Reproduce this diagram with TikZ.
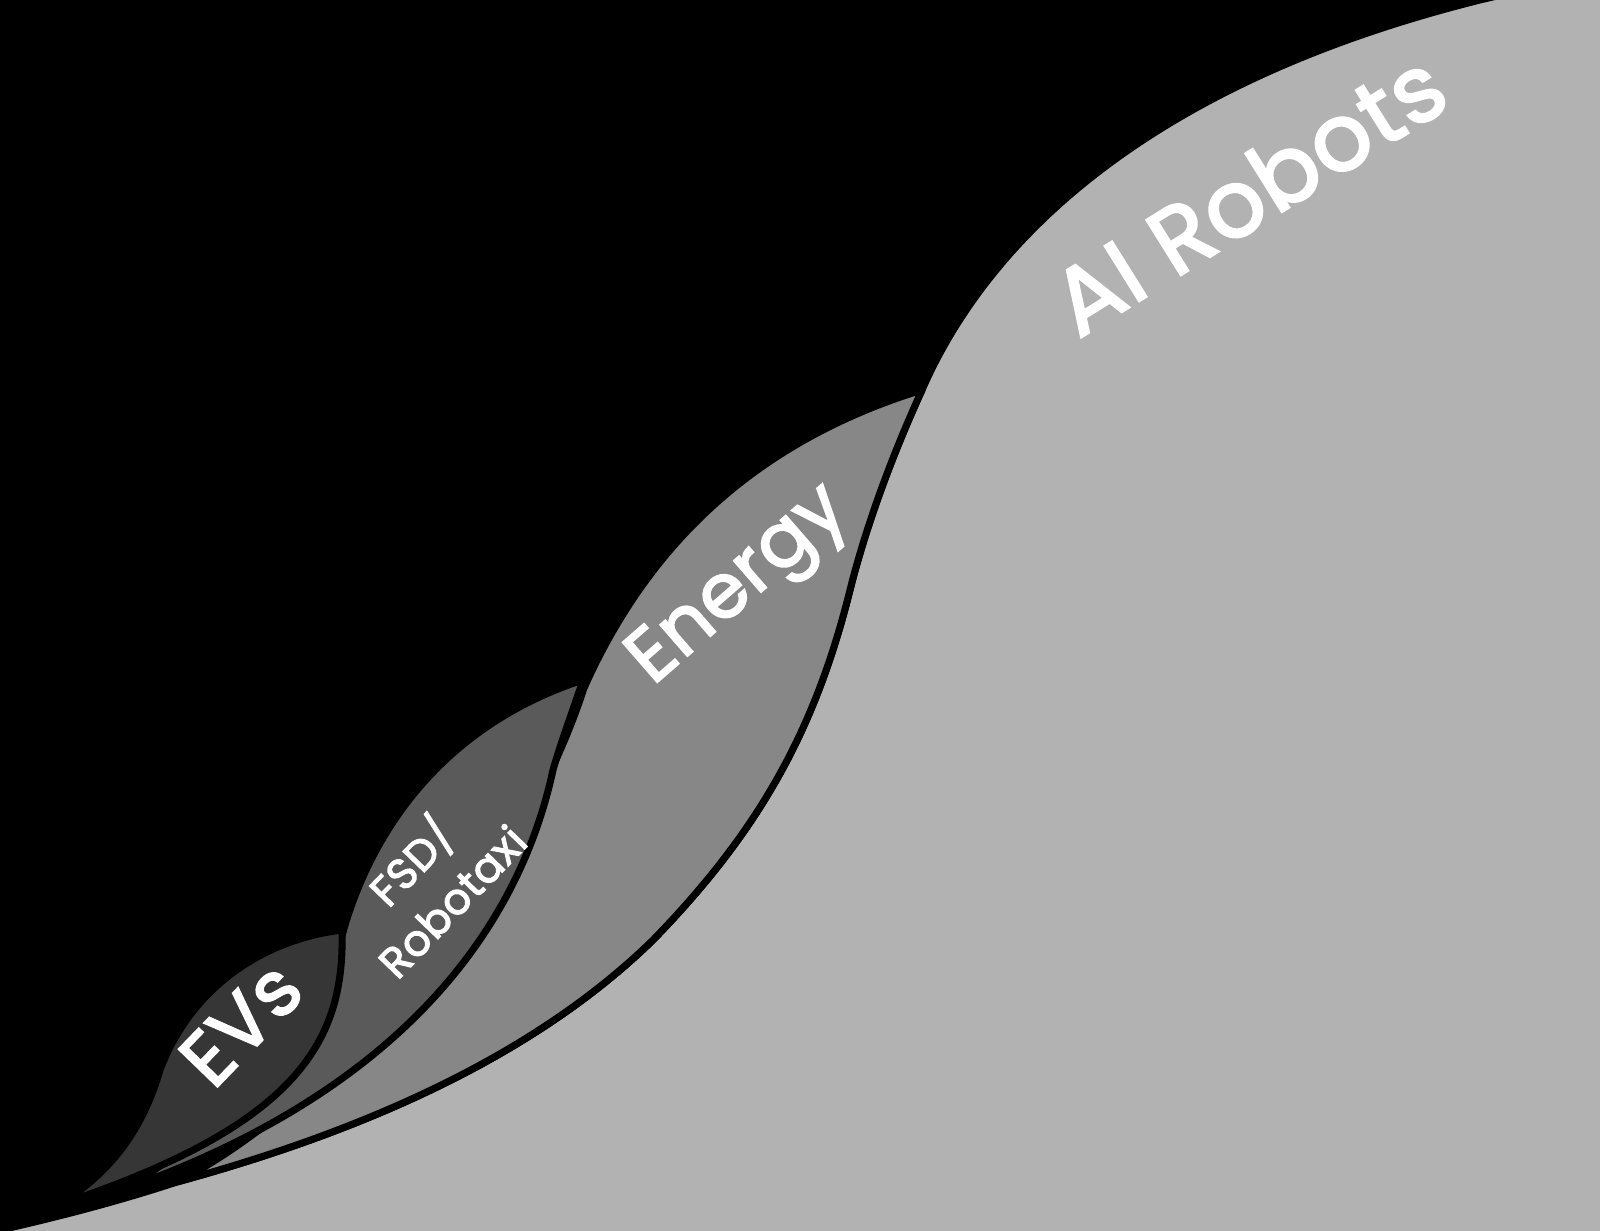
\documentclass[tikz,border=0pt]{standalone}
\usepackage{fontspec}
\newfontfamily\tagfont{Poppins}[FakeBold=2.5,LetterSpace=1.5]
\definecolor{evgray}{HTML}{363636}
\definecolor{fsdgray}{HTML}{5A5A5A}
\definecolor{energygray}{HTML}{878787}
\definecolor{aigray}{HTML}{B2B2B2}

\begin{document}
\begin{tikzpicture}[x=0.01cm,y=-0.01cm]
\tikzstyle{leaf}=[draw=black,line width=2pt,line join=round]
\tikzstyle{tag}=[text=white,inner sep=0pt,align=center]

\useasboundingbox (0,0) rectangle (1600,1231);
\fill[black] (0,0) rectangle (1600,1231);

% AI robots, the big one
\filldraw[leaf,fill=aigray] (1650,1280) -- (-50,1280) -- (-50,1241)
  .. controls (40,1222) and (110,1204) .. (177,1182)
  .. controls (330,1140) and (520,1070) .. (653,940)
  .. controls (760,830) and (815,730) .. (850,590)
  .. controls (865,530) and (890,460) .. (922,390)
  .. controls (970,280) and (1100,95) .. (1480,0)
  -- (1650,-40) -- cycle;

% Energy
\filldraw[leaf,fill=energygray] (922,390)
  .. controls (760,440) and (650,540) .. (584,688)
  .. controls (515,900) and (320,1110) .. (177,1182)
  .. controls (330,1140) and (520,1070) .. (653,940)
  .. controls (760,830) and (815,730) .. (850,590)
  .. controls (865,530) and (890,460) .. (922,390) -- cycle;

% FSD / Robotaxi
\filldraw[leaf,fill=fsdgray] (583,680)
  .. controls (460,720) and (380,810) .. (345,925)
  .. controls (320,1020) and (250,1110) .. (127,1188)
  .. controls (430,1080) and (525,900) .. (553,770)
  .. controls (560,745) and (573,710) .. (583,680) -- cycle;

% EVs
\filldraw[leaf,fill=evgray] (58,1205)
  .. controls (125,1165) and (148,1110) .. (160,1070)
  .. controls (190,990) and (260,940) .. (342,930)
  .. controls (345,1040) and (300,1125) .. (58,1205) -- cycle;

\node[tag,rotate=32,font={\tagfont\fontsize{26.5}{30}\selectfont}] (ai) at (1248,193) {AI Robots};
\node[tag,rotate=41,font={\tagfont\fontsize{21.5}{24}\selectfont}] (energy) at (741,588) {Energy};
\node[tag,rotate=46,font={\tagfont\fontsize{12.2}{16}\selectfont}] (fsd) at (429,879) {FSD/\\Robotaxi};
\node[tag,rotate=46,font={\tagfont\fontsize{22}{24}\selectfont}] (evs) at (241,1024) {EVs};

\end{tikzpicture}
\end{document}
